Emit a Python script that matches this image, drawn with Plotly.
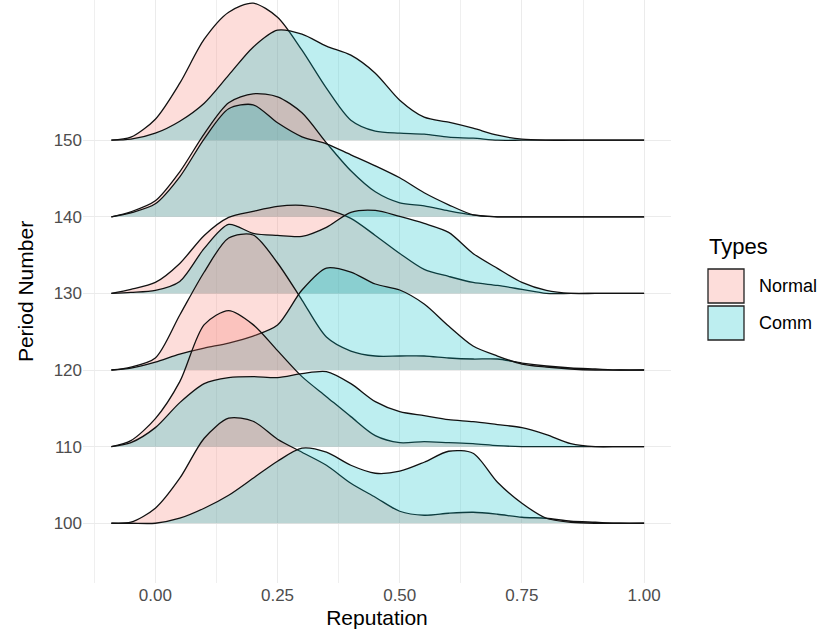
import plotly.graph_objects as go

# Reputation grid on which every density curve is evaluated
reputation = [-0.09, -0.05, 0.00, 0.05, 0.10, 0.15, 0.20, 0.25, 0.30, 0.35, 0.40, 0.45,
              0.50, 0.55, 0.60, 0.65, 0.70, 0.75, 0.80, 0.85, 0.90, 0.95, 1.00]

periods = [100, 110, 120, 130, 140, 150]
types = ["Normal", "Comm"]

# Scaled density heights per period and type (76.6 units = one period step)
normal_150 = [0, 3, 21, 57, 101, 128, 137, 123, 90, 52, 20, 9, 7, 6, 3, 2, 0, 0, 0, 0, 0, 0, 0]
comm_150 = [0, 1, 7, 19, 37, 65, 93, 110, 106, 94, 85, 67, 40, 23, 18, 12, 5, 1, 0, 0, 0, 0, 0]

normal_140 = [0, 5, 16, 45, 83, 114, 123, 120, 104, 74, 46, 25, 14, 11, 6, 2, 0, 0, 0, 0, 0, 0, 0]
comm_140 = [0, 4, 13, 40, 78, 108, 112, 94, 80, 73, 62, 51, 39, 24, 12, 2, 0, 0, 0, 0, 0, 0, 0]

normal_130 = [0, 4, 11, 30, 58, 76, 82, 87, 88, 84, 75, 58, 40, 24, 17, 11, 8, 4, 0, 0, 0, 0, 0]
comm_130 = [0, 1, 3, 12, 45, 69, 60, 58, 57, 66, 81, 83, 77, 70, 61, 40, 25, 11, 3, 0, 0, 0, 0]

normal_120 = [0, 3, 12, 55, 98, 132, 135, 107, 70, 33, 19, 14, 14, 14, 12, 11, 11, 7, 4, 2, 1, 0, 0]
comm_120 = [0, 2, 8, 16, 22, 27, 34, 45, 80, 102, 98, 86, 80, 66, 44, 24, 14, 6, 3, 1, 0, 0, 0]

normal_110 = [0, 6, 28, 65, 122, 136, 122, 96, 70, 50, 30, 11, 4, 5, 4, 3, 1, 0, 0, 0, 0, 0, 0]
comm_110 = [0, 4, 19, 44, 63, 69, 70, 69, 73, 75, 63, 45, 35, 31, 27, 25, 22, 19, 12, 3, 0, 0, 0]

normal_100 = [0, 1, 15, 45, 85, 105, 102, 84, 71, 58, 40, 26, 12, 8, 10, 11, 9, 6, 5, 2, 1, 0, 0]
comm_100 = [0, 0, 0, 5, 15, 28, 45, 62, 75, 71, 58, 50, 52, 61, 72, 70, 41, 20, 5, 1, 0, 0, 0]

x_tick_vals = [0.00, 0.25, 0.50, 0.75, 1.00]
x_tick_text = ["0.00", "0.25", "0.50", "0.75", "1.00"]

densities = {
    (150, "Normal"): normal_150, (150, "Comm"): comm_150,
    (140, "Normal"): normal_140, (140, "Comm"): comm_140,
    (130, "Normal"): normal_130, (130, "Comm"): comm_130,
    (120, "Normal"): normal_120, (120, "Comm"): comm_120,
    (110, "Normal"): normal_110, (110, "Comm"): comm_110,
    (100, "Normal"): normal_100, (100, "Comm"): comm_100,
}

HEIGHT_SCALE = 10 / 76.6
FILL = {"Normal": "rgba(248,118,109,0.25)", "Comm": "rgba(0,191,196,0.26)"}
FONT = "Liberation Sans, Arial, sans-serif"

fig = go.Figure()

# back ridges first so that lower periods sit in front
for period in sorted(periods, reverse=True):
    for t in types:
        h = densities[(period, t)]
        fig.add_trace(go.Scatter(
            x=reputation, y=[period] * len(reputation), mode="lines",
            line=dict(width=0, color="rgba(0,0,0,0)"),
            hoverinfo="skip", showlegend=False))
        fig.add_trace(go.Scatter(
            x=reputation, y=[period + v * HEIGHT_SCALE for v in h], mode="lines",
            fill="tonexty", fillcolor=FILL[t],
            line=dict(color="#111111", width=1.3, shape="spline", smoothing=0.8),
            name=t, showlegend=False))

# plot area in pixels
L, R, T, B = 83, 671, 0, 583
W, H = 825, 638


def px(xp):
    return (xp - L) / (R - L)


def py(yp):
    return (B - yp) / (B - T)


shapes = []
annotations = [dict(text="Types", x=px(707), y=py(247), xref="paper", yref="paper",
                    xanchor="left", yanchor="middle", showarrow=False,
                    font=dict(family=FONT, size=22, color="black"))]
key_rows = [(269, 303), (306, 340)]
for t, (y0, y1) in zip(types, key_rows):
    shapes.append(dict(type="rect", xref="paper", yref="paper",
                       x0=px(708), x1=px(744), y0=py(y1), y1=py(y0),
                       fillcolor=FILL[t], line=dict(color="#222222", width=1.3)))
    annotations.append(dict(text=t, x=px(757), y=py((y0 + y1) / 2), xref="paper", yref="paper",
                            xanchor="left", yanchor="middle", showarrow=False,
                            font=dict(family=FONT, size=18, color="black")))

fig.update_layout(
    width=W, height=H,
    margin=dict(l=L, r=W - R, t=T, b=H - B),
    paper_bgcolor="white", plot_bgcolor="white",
    font=dict(family=FONT),
    shapes=shapes, annotations=annotations,
    xaxis=dict(range=[-0.148, 1.055], tickmode="array", tickvals=x_tick_vals, ticktext=x_tick_text,
               showgrid=True, gridcolor="#EBEBEB", gridwidth=1.4,
               minor=dict(tickmode="array", tickvals=[-0.125, 0.125, 0.375, 0.625, 0.875],
                          showgrid=True, gridcolor="#EFEFEF", gridwidth=1),
               zeroline=False, showline=False, ticks="",
               tickfont=dict(size=17, color="#4D4D4D"),
               title=dict(text="Reputation", font=dict(size=21, color="black"), standoff=6)),
    yaxis=dict(range=[92.2, 168.3], tickmode="array", tickvals=periods,
               ticktext=[str(p) for p in periods],
               showgrid=True, gridcolor="#EBEBEB", gridwidth=1.4,
               zeroline=False, showline=False, ticks="",
               tickfont=dict(size=17, color="#4D4D4D"),
               title=dict(text="Period Number", font=dict(size=21, color="black"), standoff=14)),
)

fig.write_html("out.html")
